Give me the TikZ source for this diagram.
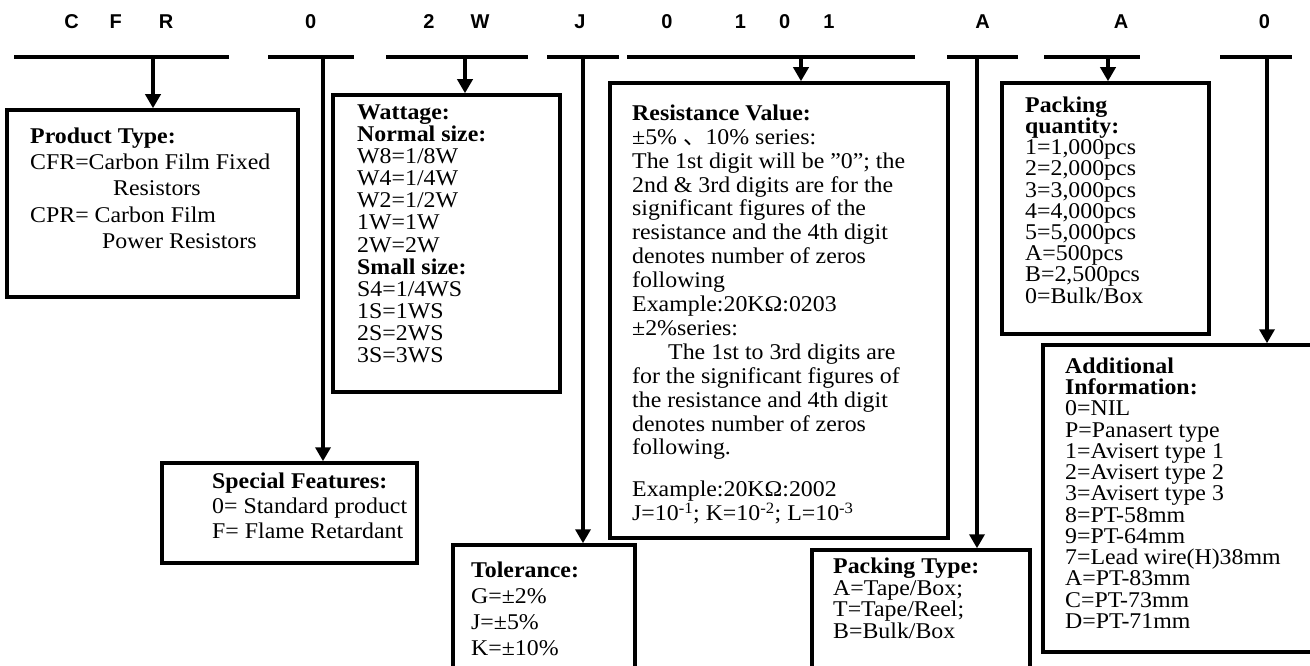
\documentclass[tikz,border=0pt]{standalone}
\usepackage{fontspec}
\setmainfont{Liberation Serif}[FakeStretch=1.06]
\newfontfamily\codefont{Liberation Sans}
\newfontfamily\cjk{Noto Sans CJK SC}
\usetikzlibrary{arrows.meta}

\tikzset{
  bar/.style={fill=black, inner sep=0pt, minimum height=4pt},
  box/.style={draw, line width=3.5pt, inner sep=0pt},
  txt/.style={anchor=north west, inner sep=0pt, align=left},
  code/.style={anchor=base, inner sep=0pt, font={\codefont\bfseries\fontsize{20}{24}\selectfont}},
  arr/.style={line width=3.5pt, -{Triangle[length=14pt, width=15pt]}}
}

\begin{document}
\begin{tikzpicture}[x=1pt, y=-1pt]
    \useasboundingbox (0,0) rectangle (1310,666);
    % part number
    \node[code] (c1) at (71.5,28.5) {C};
    \node[code] (c2) at (115.7,28.5) {F};
    \node[code] (c3) at (166,28.5) {R};
    \node[code] (c4) at (310.6,28.5) {0};
    \node[code] (c5) at (429,28.5) {2};
    \node[code] (c6) at (480,28.5) {W};
    \node[code] (c7) at (580,28.5) {J};
    \node[code] (c8) at (667,28.5) {0};
    \node[code] (c9) at (740.5,28.5) {1};
    \node[code] (c10) at (784.7,28.5) {0};
    \node[code] (c11) at (829,28.5) {1};
    \node[code] (c12) at (982.5,28.5) {A};
    \node[code] (c13) at (1121,28.5) {A};
    \node[code] (c14) at (1264.5,28.5) {0};
    % bars
    \node[bar, minimum width=215.5] (b1) at (121.25,57) {};
    \node[bar, minimum width=85.5] (b2) at (310.75,57) {};
    \node[bar, minimum width=142] (b3) at (457,57) {};
    \node[bar, minimum width=72] (b4) at (583,57) {};
    \node[bar, minimum width=288] (b5) at (771,57) {};
    \node[bar, minimum width=71] (b6) at (982.5,57) {};
    \node[bar, minimum width=96.5] (b7) at (1091.75,57) {};
    \node[bar, minimum width=72] (b8) at (1256,57) {};
    % boxes
    \node[box, minimum width=291, minimum height=187] (ptype) at (152.5,203.5) {};
    \node[box, minimum width=255, minimum height=100] (spec) at (289.5,513) {};
    \node[box, minimum width=227, minimum height=297] (watt) at (446.5,243.5) {};
    \node[box, minimum width=182, minimum height=145] (tol) at (544,617.5) {};
    \node[box, minimum width=338, minimum height=455] (res) at (779,310.5) {};
    \node[box, minimum width=218, minimum height=140] (pack) at (921,620) {};
    \node[box, minimum width=207, minimum height=251] (qty) at (1105.5,208.5) {};
    \node[box, minimum width=275, minimum height=307] (info) at (1180.5,498.5) {};
    % texts
    \node[txt, font=\fontsize{22.5}{26.3}\selectfont] (ptypet) at (30,127.5) {\textbf{Product Type:}\\CFR=Carbon Film Fixed\\\hspace*{83pt}Resistors\\CPR= Carbon Film\\\hspace*{72pt}Power Resistors};
    \node[txt, font=\fontsize{22.5}{25}\selectfont] (spect) at (212,472.5) {\textbf{Special Features:}\\0= Standard product\\F= Flame Retardant};
    \node[txt, font=\fontsize{22.5}{22.1}\selectfont] (wattt) at (357,104.5) {\textbf{Wattage:}\\\textbf{Normal size:}\\W8=1/8W\\W4=1/4W\\W2=1/2W\\1W=1W\\2W=2W\\\textbf{Small size:}\\S4=1/4WS\\1S=1WS\\2S=2WS\\3S=3WS};
    \node[txt, font=\fontsize{22.5}{26}\selectfont] (tolt) at (471,561.5) {\textbf{Tolerance:}\\G=±2\%\\J=±5\%\\K=±10\%};
    \node[txt, font=\fontsize{22.5}{23.9}\selectfont] (rest) at (632,104.5) {\textbf{Resistance Value:}\\±5\% {\cjk 、}10\% series:\\The 1st digit will be ”0”; the\\2nd \& 3rd digits are for the\\significant figures of the\\resistance and the 4th digit\\denotes number of zeros\\following\\Example:20KΩ:0203\\±2\%series:\\\hspace*{36pt}The 1st to 3rd digits are\\for the significant figures of\\the resistance and 4th digit\\denotes number of zeros\\following.\\[18pt]Example:20KΩ:2002\\J=10\textsuperscript{-1}; K=10\textsuperscript{-2}; L=10\textsuperscript{-3}};
    \node[txt, font=\fontsize{22.5}{21.7}\selectfont] (packt) at (833,557.5) {\textbf{Packing Type:}\\A=Tape/Box;\\T=Tape/Reel;\\B=Bulk/Box};
    \node[txt, font=\fontsize{22.5}{21.2}\selectfont] (qtyt) at (1025,96.5) {\textbf{Packing}\\\textbf{quantity:}\\1=1,000pcs\\2=2,000pcs\\3=3,000pcs\\4=4,000pcs\\5=5,000pcs\\A=500pcs\\B=2,500pcs\\0=Bulk/Box};
    \node[txt, font=\fontsize{22.5}{21.25}\selectfont] (infot) at (1065,357.5) {\textbf{Additional}\\\textbf{Information:}\\0=NIL\\P=Panasert type\\1=Avisert type 1\\2=Avisert type 2\\3=Avisert type 3\\8=PT-58mm\\9=PT-64mm\\7=Lead wire(H)38mm\\A=PT-83mm\\C=PT-73mm\\D=PT-71mm};
    % connectors
    \coordinate (x1) at (153,0);
    \coordinate (x2) at (323,0);
    \coordinate (x3) at (465,0);
    \coordinate (x4) at (583,0);
    \coordinate (x5) at (801,0);
    \coordinate (x6) at (977,0);
    \coordinate (x7) at (1108,0);
    \coordinate (x8) at (1267,0);
    \draw[arr] (b1 -| x1) -- (ptype.north -| x1);
    \draw[arr] (b2 -| x2) -- (spec.north -| x2);
    \draw[arr] (b3 -| x3) -- (watt.north -| x3);
    \draw[arr] (b4 -| x4) -- (tol.north -| x4);
    \draw[arr] (b5 -| x5) -- (res.north -| x5);
    \draw[arr] (b6 -| x6) -- (pack.north -| x6);
    \draw[arr] (b7 -| x7) -- (qty.north -| x7);
    \draw[arr] (b8 -| x8) -- (info.north -| x8);
\end{tikzpicture}
\end{document}
